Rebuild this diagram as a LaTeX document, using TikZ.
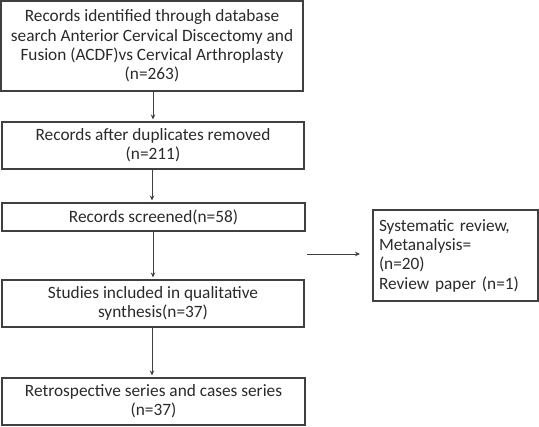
\documentclass[tikz,border=0pt]{standalone}
\usepackage{fontspec}
\setmainfont{Carlito}
\usetikzlibrary{arrows.meta}
\definecolor{txt}{HTML}{2A2A2A}
\definecolor{ln}{HTML}{404040}
\begin{document}
\begin{tikzpicture}[x=1pt,y=-1pt,
  box/.style={draw=ln,line width=1.1pt,inner sep=0pt,align=center,text=txt,
    font=\fontsize{17.3}{19.3}\selectfont},
  arr/.style={draw=ln,line width=0.8pt,-{Stealth[length=5pt,width=4.5pt]},shorten >=2pt}]
\useasboundingbox (0,0) rectangle (539,427);
\node[box,minimum width=302,minimum height=90] (b1) at (152,46)
  {Records identified through database\\search Anterior Cervical Discectomy and\\Fusion (ACDF)vs Cervical Arthroplasty\\(n=263)};
\node[box,minimum width=302,minimum height=47] (b2) at (153,145.5)
  {Records after duplicates removed\\(n=211)};
\node[box,minimum width=303,minimum height=28] (b3) at (153.5,217)
  {Records screened(n=58)};
\node[box,minimum width=302,minimum height=47] (b4) at (153,303.5)
  {Studies included in qualitative\\synthesis(n=37)};
\node[box,minimum width=303,minimum height=47] (b5) at (153.5,401.5)
  {Retrospective series and cases series\\(n=37)};
\node[box,minimum width=165,minimum height=91,align=left,text width=153] (r) at (455.5,255.5)
  {Systematic review,\\Metanalysis=\\(n=20)\\Review paper (n=1)};
\coordinate (h1) at (307,254);
\coordinate (h2) at (362,254);
\draw[arr] (b1.south -| 153,0) -- (b2.north -| 153,0);
\draw[arr] (b2.south -| 152,0) -- (b3.north -| 152,0);
\draw[arr] (b3.south -| 153,0) -- (b4.north -| 153,0);
\draw[arr] (b4.south -| 152,0) -- (b5.north -| 152,0);
\draw[arr] (h1) -- (h2);
\end{tikzpicture}
\end{document}
